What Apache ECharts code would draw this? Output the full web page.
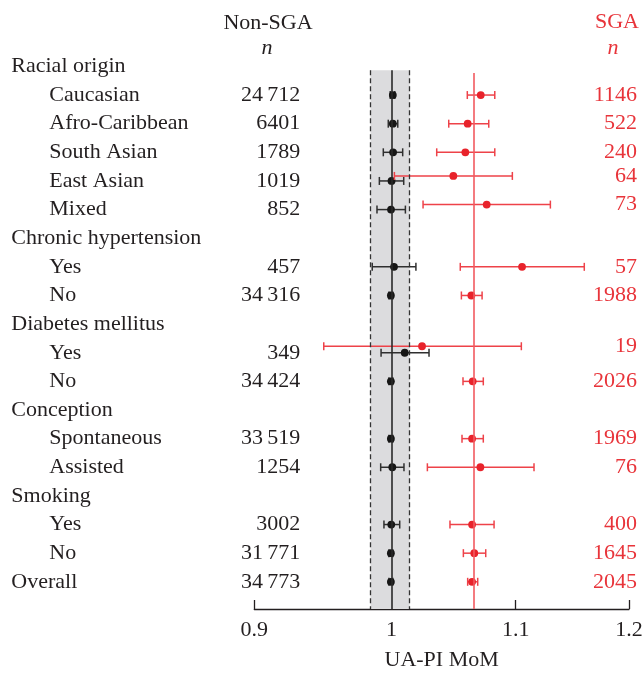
<!DOCTYPE html>
<html><head><meta charset="utf-8">
<script src="https://cdn.jsdelivr.net/npm/echarts@6/dist/echarts.min.js"></script>
<style>html,body{margin:0;padding:0;background:#fff}#c{width:644px;height:673px}</style>
</head><body><div id="c"></div>
<script>
// ---------------- data ----------------
const groupNames = ['Racial origin', 'Chronic hypertension', 'Diabetes mellitus', 'Conception', 'Smoking'];
const subgroupNames = [
  ['Caucasian', 'Afro-Caribbean', 'South Asian', 'East Asian', 'Mixed'],
  ['Yes', 'No'],
  ['Yes', 'No'],
  ['Spontaneous', 'Assisted'],
  ['Yes', 'No']
];
const overallName = 'Overall';

// order: Caucasian, Afro-Caribbean, South Asian, East Asian, Mixed, CH Yes, CH No,
//        DM Yes, DM No, Spontaneous, Assisted, Smoking Yes, Smoking No, Overall
const nonSgaN    = [24712, 6401, 1789, 1019, 852, 457, 34316, 349, 34424, 33519, 1254, 3002, 31771, 34773];
const nonSgaMean = [1.001, 1.001, 1.0012, 1.000, 0.9996, 1.0019, 0.9995, 1.0102, 0.9995, 0.9995, 1.0006, 0.9998, 0.9995, 0.9995];
const nonSgaLo   = [0.999, 0.9975, 0.9937, 0.9907, 0.9889, 0.9853, 0.998, 0.992, 0.998, 0.998, 0.9917, 0.9942, 0.998, 0.998];
const nonSgaHi   = [1.0025, 1.0048, 1.0086, 1.0094, 1.0107, 1.0189, 1.001, 1.0292, 1.001, 1.001, 1.0096, 1.0063, 1.001, 1.001];

const sgaN    = [1146, 522, 240, 64, 73, 57, 1988, 19, 2026, 1969, 76, 400, 1645, 2045];
const sgaMean = [1.0709, 1.0602, 1.0583, 1.0486, 1.0758, 1.1054, 1.0632, 1.0237, 1.0643, 1.0638, 1.0706, 1.0638, 1.0656, 1.0638];
const sgaLo   = [1.0599, 1.0449, 1.0353, 1.0022, 1.0245, 1.0542, 1.0551, 0.9493, 1.0564, 1.0556, 1.0279, 1.0459, 1.0567, 1.0602];
const sgaHi   = [1.0825, 1.0775, 1.0825, 1.0972, 1.1297, 1.1595, 1.0720, 1.1048, 1.0730, 1.0730, 1.1156, 1.0819, 1.0750, 1.0684];

const nonSgaRef = 1;
const sgaRef = 1.065;
const refBand = [0.984, 1.014];

const xTicks = [0.9, 1, 1.1, 1.2];
const xTickLabels = ['0.9', '1', '1.1', '1.2'];
const xTitle = 'UA-PI MoM';

// ---------------- layout / style ----------------
const FONT = '"Liberation Serif", "Times New Roman", serif';
const FS = 22;
const BLACK = '#231f20';
const RED = '#e8343a';
const RED_BAR = '#ee4249';
const RED_DOT = '#e8232b';
const RED_REF = '#f25a60';
// small vertical dodge (px) of the SGA marker where the original lifts it
const sgaLiftPx = { 'Racial origin/East Asian': 5, 'Racial origin/Mixed': 5, 'Diabetes mellitus/Yes': 6.5 };

// build rows
const rows = [];
let di = 0;
groupNames.forEach((g, gi) => {
  rows.push({ label: g, indent: false, d: -1, key: g });
  subgroupNames[gi].forEach(s => rows.push({ label: s, indent: true, d: di++, key: g + '/' + s }));
});
rows.push({ label: overallName, indent: false, d: di++, key: overallName });

const yMin = -0.5, yMax = 18.95;
const bandTop = 0.13, redTop = 0.23;

function fmtN(n) {
  const s = String(n);
  if (n >= 10000) return s.slice(0, s.length - 3) + '\u2009' + s.slice(s.length - 3);
  return s;
}

const blackData = [], redData = [];
rows.forEach((r, i) => {
  if (r.d < 0) return;
  const k = r.d;
  blackData.push([i, nonSgaMean[k], nonSgaLo[k], nonSgaHi[k], nonSgaN[k], 0]);
  redData.push([i, sgaMean[k], sgaLo[k], sgaHi[k], sgaN[k], sgaLiftPx[r.key] || 0]);
});

function makeRender(barColor, dotColor, textColor, textXFn) {
  return function (params, api) {
    const r = api.value(0), m = api.value(1), lo = api.value(2), hi = api.value(3), n = api.value(4), lift = api.value(5);
    const c = api.coord([m, r]);
    const a = api.coord([lo, r]);
    const b = api.coord([hi, r]);
    const y = c[1] - lift;
    const cap = 4;
    const lw = 1.5;
    const cs = params.coordSys;
    return {
      type: 'group',
      children: [
        { type: 'line', shape: { x1: a[0], y1: y, x2: b[0], y2: y }, style: { stroke: barColor, lineWidth: lw } },
        { type: 'line', shape: { x1: a[0], y1: y - cap, x2: a[0], y2: y + cap }, style: { stroke: barColor, lineWidth: lw } },
        { type: 'line', shape: { x1: b[0], y1: y - cap, x2: b[0], y2: y + cap }, style: { stroke: barColor, lineWidth: lw } },
        { type: 'circle', shape: { cx: c[0], cy: y, r: 3.9 }, style: { fill: dotColor } },
        { type: 'text', x: textXFn(cs), y: y, style: { text: fmtN(n), fill: textColor, font: FS + 'px ' + FONT, align: 'right', verticalAlign: 'middle' } }
      ]
    };
  };
}

const headerIdx = rows.map((r, i) => r.indent ? -1 : i).filter(i => i >= 0);
const itemIdx = rows.map((r, i) => r.indent ? i : -1).filter(i => i >= 0);

function yAxisFor(values, margin) {
  return {
    type: 'value', inverse: true, min: yMin, max: yMax, position: 'left',
    axisLine: { show: false }, axisTick: { show: false }, splitLine: { show: false },
    axisLabel: {
      customValues: values, align: 'left', margin: margin,
      fontFamily: FONT, fontSize: FS, color: BLACK,
      formatter: v => rows[Math.round(v)] ? rows[Math.round(v)].label : ''
    }
  };
}

const chart = echarts.init(document.getElementById('c'), null, { renderer: 'canvas' });
chart.setOption({
  animation: false,
  backgroundColor: '#fff',
  grid: { left: 254.3, right: 15, top: 52.1, bottom: 64, containLabel: false, outerBoundsMode: 'none' },
  xAxis: {
    type: 'log', logBase: 10, min: 0.9, max: 1.2, position: 'bottom',
    axisLine: { onZero: false, lineStyle: { color: BLACK, width: 1.3 } },
    axisTick: { customValues: xTicks, inside: true, length: 9, lineStyle: { color: BLACK, width: 1.3 } },
    axisLabel: {
      customValues: xTicks, margin: 10, fontFamily: FONT, fontSize: FS, color: BLACK,
      formatter: v => { const i = xTicks.findIndex(t => Math.abs(t - v) < 1e-6); return i >= 0 ? xTickLabels[i] : ''; }
    },
    splitLine: { show: false },
    name: xTitle, nameLocation: 'middle', nameGap: 40,
    nameTextStyle: { fontFamily: FONT, fontSize: FS, color: BLACK }
  },
  yAxis: [yAxisFor(headerIdx, 243), yAxisFor(itemIdx, 205)],
  graphic: [
    { type: 'text', x: 268, y: 23, style: { text: 'Non-SGA', font: FS + 'px ' + FONT, fill: BLACK, align: 'center', verticalAlign: 'middle' } },
    { type: 'text', x: 267, y: 48, style: { text: 'n', font: 'italic ' + FS + 'px ' + FONT, fill: BLACK, align: 'center', verticalAlign: 'middle' } },
    { type: 'text', x: 617, y: 22, style: { text: 'SGA', font: FS + 'px ' + FONT, fill: RED, align: 'center', verticalAlign: 'middle' } },
    { type: 'text', x: 613, y: 48, style: { text: 'n', font: 'italic ' + FS + 'px ' + FONT, fill: RED, align: 'center', verticalAlign: 'middle' } }
  ],
  series: [
    {
      type: 'line', data: [], z: 1, silent: true,
      markArea: {
        silent: true,
        itemStyle: { color: '#dcdcde', borderWidth: 0 },
        data: [[{ coord: [refBand[0], bandTop] }, { coord: [refBand[1], yMax] }]]
      },
      markLine: {
        silent: true, symbol: 'none', label: { show: false },
        data: [
          [{ coord: [refBand[0], bandTop], lineStyle: { color: '#333', width: 1.3, type: [5, 3] } }, { coord: [refBand[0], yMax] }],
          [{ coord: [refBand[1], bandTop], lineStyle: { color: '#333', width: 1.3, type: [5, 3] } }, { coord: [refBand[1], yMax] }],
          [{ coord: [nonSgaRef, bandTop], lineStyle: { color: '#2a2a2a', width: 1.6, type: 'solid' } }, { coord: [nonSgaRef, yMax] }],
          [{ coord: [sgaRef, redTop], lineStyle: { color: RED_REF, width: 1.6, type: 'solid' } }, { coord: [sgaRef, yMax] }]
        ]
      }
    },
    {
      type: 'custom', name: 'Non-SGA', z: 3, clip: false,
      renderItem: makeRender('#2f2f2f', '#161616', BLACK, cs => cs.x + 46),
      encode: { x: [1, 2, 3], y: 0 },
      data: blackData
    },
    {
      type: 'custom', name: 'SGA', z: 4, clip: false,
      renderItem: makeRender(RED_BAR, RED_DOT, RED, cs => cs.x + cs.width + 8),
      encode: { x: [1, 2, 3], y: 0 },
      data: redData
    }
  ]
});
</script>
</body></html>
